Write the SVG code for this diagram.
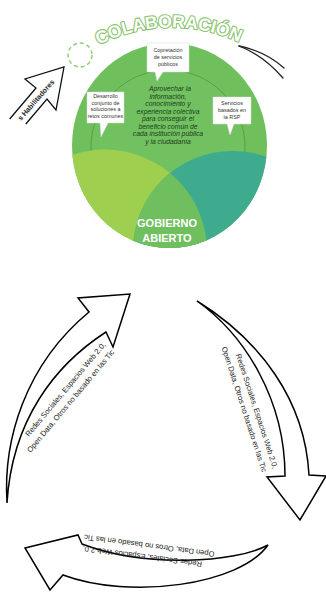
<svg xmlns="http://www.w3.org/2000/svg" width="326" height="594" viewBox="0 0 326 594">
<style>
.bub{fill:#ffffff;stroke:#d8d8d8;stroke-width:0.5}
.bt{font-family:"Liberation Sans",Arial,sans-serif;font-size:5.4px;fill:#333;text-anchor:middle}
.ct{font-family:"Liberation Sans",Arial,sans-serif;font-size:6.8px;font-style:italic;fill:#1d3a1d;text-anchor:middle}
.gt{font-family:"Liberation Sans",Arial,sans-serif;font-size:11px;font-weight:bold;fill:#ffffff;text-anchor:middle}
.arr{fill:#ffffff;stroke:#000;stroke-width:1.5;stroke-linejoin:miter}
.lab{font-family:"Liberation Sans",Arial,sans-serif;font-size:7.6px;fill:#222;text-anchor:end}
</style>
<defs>
<clipPath id="mainClip"><ellipse cx="169.5" cy="145.5" rx="97.5" ry="102.5"/></clipPath>
<clipPath id="limeClip"><circle cx="104.9" cy="251.8" r="102.2"/></clipPath>
<path id="colabArc" d="M 95,47 A 160 160 0 0 1 243,44" fill="none"/>
</defs>

<g id="gobierno-abierto">
  <ellipse cx="169.5" cy="145.5" rx="97.5" ry="102.5" fill="#6fbf5c"/>
  <circle cx="168" cy="147" r="77" fill="#72c160" stroke="#4f9d43" stroke-width="0.9"/>
  <g clip-path="url(#mainClip)">
    <circle cx="104.9" cy="251.8" r="102.2" fill="#9ecf4e"/>
    <circle cx="232.7" cy="250.6" r="99.7" fill="#3eab8f"/>
    <circle cx="232.7" cy="250.6" r="99.7" fill="#6fbf5f" clip-path="url(#limeClip)"/>
  </g>
  <text class="gt" x="167" y="227">GOBIERNO</text>
  <text class="gt" x="167" y="242">ABIERTO</text>
  <g class="ct">
    <text x="170" y="91">Aprovechar  la</text>
    <text x="168" y="98.5">información,</text>
    <text x="168" y="106">conocimiento y</text>
    <text x="168" y="113.5">experiencia  colectiva</text>
    <text x="168" y="121">para conseguir el</text>
    <text x="168" y="128.5">beneficio común de</text>
    <text x="168" y="136">cada institución pública</text>
    <text x="168" y="143.5">y la ciudadanía</text>
  </g>
</g>

<g id="bubble-coprestacion">
  <path class="bub" d="M147,43 H189 V72 H163 L157,81 L155,72 H147 Z"/>
  <text class="bt" x="168" y="52">Copretación</text>
  <text class="bt" x="168" y="59">de servicios</text>
  <text class="bt" x="168" y="66">públicos</text>
</g>

<g id="bubble-desarrollo">
  <path class="bub" d="M87,92 H124 V123 H108 L101,137 L100,123 H87 Z"/>
  <text class="bt" x="105.5" y="98">Desarrollo</text>
  <text class="bt" x="105.5" y="104.5">conjunto de</text>
  <text class="bt" x="105.5" y="111">soluciones a</text>
  <text class="bt" x="105.5" y="117.5">retos comunes</text>
</g>

<g id="bubble-servicios">
  <path class="bub" d="M213,97 H251 V124 H234 L230,135 L227,124 H213 Z"/>
  <text class="bt" x="232" y="105">Servicios</text>
  <text class="bt" x="232" y="112">basados en</text>
  <text class="bt" x="232" y="119">la RSP</text>
</g>

<g id="colaboracion">
  <text font-family="'Liberation Sans',Arial,sans-serif" font-size="17.5" font-weight="bold" fill="#ffffff" stroke="#86c26a" stroke-width="2.2" stroke-linejoin="round" paint-order="stroke"><textPath href="#colabArc" startOffset="50%" text-anchor="middle">COLABORACIÓN</textPath></text>
</g>

<g id="dashed-circle">
  <circle cx="80" cy="55" r="12" fill="none" stroke="#8fcf7a" stroke-width="1.5" stroke-dasharray="4 3"/>
</g>

<g id="habilitadores">
  <path d="M9.7,119 L36,88 L25,79 L64,67 L56,110 L47,99 L25.8,124" fill="#ffffff" stroke="#111" stroke-width="1.3" stroke-linejoin="miter"/>
  <text transform="translate(36,100) rotate(-49)" text-anchor="middle" y="2.5" font-family="'Liberation Sans',Arial,sans-serif" font-size="7.2" font-weight="bold" fill="#222">s Habilitadores</text>
</g>

<g id="swoosh" fill="none" stroke="#222" stroke-width="1.3" stroke-linecap="round">
  <path d="M239,46 Q265,51 284,68"/>
  <path d="M239,46 Q263,55 283,78"/>
</g>

<g id="connectors">
  <g id="arrow-left">
    <path class="arr" d="M7,503 C3,440 25,365 89,312 L78,298 L130,294 L113,347 L106,332 C55,365 12,420 7,503 Z"/>
    <g transform="translate(106,345) rotate(-50)">
      <text class="lab" x="0" y="0">Redes Sociales, Espacios Web 2.0,</text>
      <text class="lab" x="0" y="11.5">Open Data, Otros no basado en las Tic</text>
    </g>
  </g>
  <g id="arrow-right">
    <path class="arr" d="M197,301 C260,340 305,400 309,475 L326,476 L300,520 L267,477 L285,476 C285,400 245,335 197,301 Z"/>
    <g transform="translate(273,469) rotate(72)">
      <text class="lab" x="0" y="0">Redes Sociales, Espacios Web 2.0,</text>
      <text class="lab" x="0" y="11.5">Open Data, Otros no basado en las Tic</text>
    </g>
  </g>
  <g id="arrow-bottom">
    <path class="arr" d="M268,545 C240,585 130,600 63,575 L50,590 L25,548 L78,535 L82,544 C145,568 235,563 268,545 Z"/>
    <g transform="translate(83,546) rotate(187.5)">
      <text class="lab" x="0" y="0">Redes Sociales, Espacios Web 2.0,</text>
      <text class="lab" x="0" y="11.5">Open Data, Otros no basado en las Tic</text>
    </g>
  </g>
</g>
</svg>
